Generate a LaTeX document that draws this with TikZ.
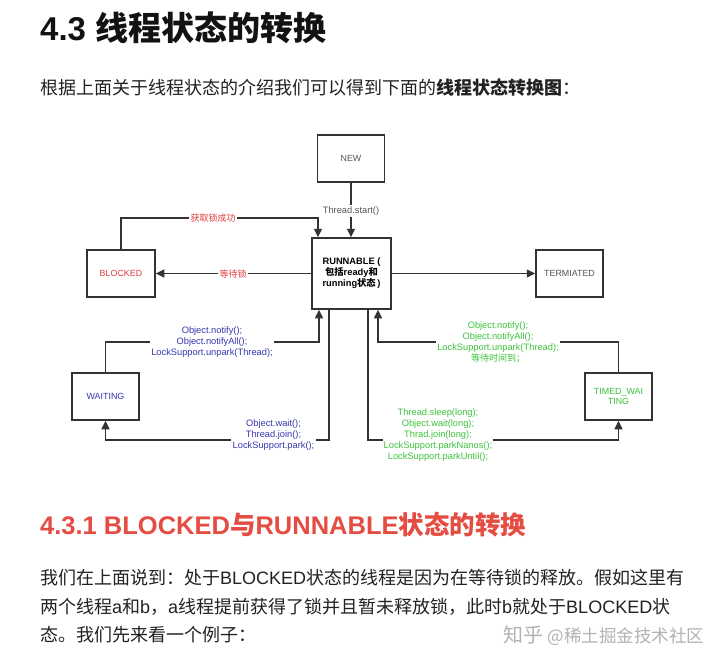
\documentclass[tikz,border=0pt]{standalone}
\usepackage{fontspec}
\setmainfont{Liberation Sans}
\newfontfamily\cjk{Noto Sans CJK SC}
\usetikzlibrary{arrows.meta}
\definecolor{ln}{HTML}{333333}
\definecolor{txtgrey}{HTML}{555555}
\definecolor{lred}{RGB}{225,60,60}
\definecolor{lblue}{RGB}{55,55,175}
\definecolor{lgreen}{RGB}{60,195,60}
\definecolor{hred}{RGB}{229,77,66}
\definecolor{bodytxt}{HTML}{222222}
\begin{document}
\begin{tikzpicture}[x=1pt,y=-1pt,
 box/.style={draw=ln, line width=1.5pt, minimum width=67pt, minimum height=47pt, inner sep=0pt, font=\fontsize{8.9}{10}\selectfont, align=center},
 arr/.style={draw=ln, line width=1.3pt, -{Triangle[length=8.5pt,width=8pt]}},
 lbl/.style={fill=white, inner sep=1.2pt, align=center, font=\fontsize{9.3}{11}\selectfont},
 zhlbl/.style={fill=white, inner sep=1.2pt, align=center, font=\cjk\fontsize{9}{11}\selectfont},
 para/.style={anchor=base west, inner sep=0pt, text=bodytxt, font=\fontsize{18}{20}\selectfont},
]
\useasboundingbox[fill=white] (0,0) rectangle (720,664);

% text
\node[anchor=base west, inner sep=0pt, text=black!93, font=\bfseries\fontsize{33}{33}\selectfont] (title) at (40,40.5) {4.3 {\cjk 线程状态的转换}};
\node[para, font=\cjk\fontsize{18}{20}\selectfont] (intro) at (40,94.5) {根据上面关于线程状态的介绍我们可以得到下面的\textbf{线程状态转换图}：};
\node[anchor=base west, inner sep=0pt, text=hred, font=\bfseries\fontsize{25.5}{25}\selectfont] (h2) at (40,534) {4.3.1 BLOCKED{\cjk 与}RUNNABLE{\cjk 状态的转换}};
\node[para] (p1) at (40,584.5) {{\cjk 我们在上面说到：处于}BLOCKED{\cjk 状态的线程是因为在等待锁的释放。假如这里有}};
\node[para] (p2) at (40,613) {{\cjk 两个线程}a{\cjk 和}b{\cjk ，}a{\cjk 线程提前获得了锁并且暂未释放锁，此时}b{\cjk 就处于}BLOCKED{\cjk 状}};
\node[para] (p3) at (40,641.5) {{\cjk 态。我们先来看一个例子：}};
\node[anchor=base west, inner sep=0pt, text=black!30, font=\cjk\fontsize{20}{20}\selectfont] (wm) at (503,642) {知乎 {\fontsize{17.5}{17.5}\selectfont @稀土掘金技术社区}};

% boxes
\node[box, text=txtgrey] (new) at (351,158.5) {NEW};
\node[box, minimum width=79pt, minimum height=71pt, font=\bfseries\fontsize{9.3}{11}\selectfont] (run) at (351.5,273.5) {RUNNABLE (\\{\cjk 包括}ready{\cjk 和}\\running{\cjk 状态}\,)};
\node[box, text=lred, minimum width=68pt] (blk) at (121,273.5) {BLOCKED};
\node[box, text=txtgrey] (term) at (569.5,273.5) {TERMIATED};
\node[box, text=lblue] (wait) at (105.5,396.5) {WAITING};
\node[box, text=lgreen] (tw) at (618.5,396.5) {TIMED\_WAI\\TING};

% connectors
\coordinate (k1) at (213,218);
\coordinate (bt) at (212,342);
\coordinate (bb) at (273.5,440);
\coordinate (gb) at (438,440);
\coordinate (gt) at (498,342);
\draw[arr] (new.south) -- (new.south |- run.north);
\draw[arr] (blk.north) |- (k1) -| ([xshift=-33.5pt]run.north);
\draw[arr] (run.west) -- (blk.east);
\draw[arr] (run.east) -- (term.west);
\draw[arr] (wait.north) |- (bt) -| ([xshift=-32.5pt]run.south);
\draw[arr] ([xshift=-22.5pt]run.south) |- (bb) -| (wait.south);
\draw[arr] ([xshift=16.5pt]run.south) |- (gb) -| (tw.south);
\draw[arr] (tw.north) |- (gt) -| ([xshift=26.5pt]run.south);

% labels
\node[lbl, text=txtgrey] (l0) at (351,211) {Thread.start()};
\node[zhlbl, text=lred] (l1) at (k1) {获取锁成功};
\node[zhlbl, text=lred] (l2) at (233,274) {等待锁};
\node[lbl, text=lblue] (l3) at (bt) {Object.notify();\\Object.notifyAll();\\LockSupport.unpark(Thread);};
\node[lbl, text=lblue] (l4) at (273.5,435.5) {Object.wait();\\Thread.join();\\LockSupport.park();};
\node[lbl, text=lgreen] (l5) at (gt) {Object.notify();\\Object.notifyAll();\\LockSupport.unpark(Thread);\\{\cjk\fontsize{9}{11}\selectfont 等待时间到；}};
\node[lbl, text=lgreen] (l6) at (438,435) {Thread.sleep(long);\\Object.wait(long);\\Thrad.join(long);\\LockSupport.parkNanos();\\LockSupport.parkUntil();};
\end{tikzpicture}
\end{document}
